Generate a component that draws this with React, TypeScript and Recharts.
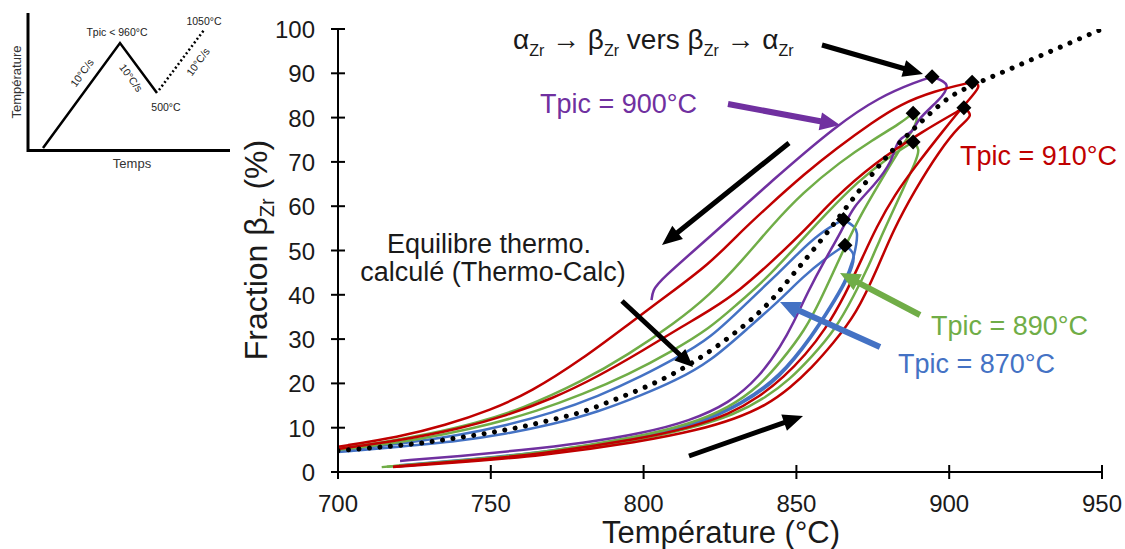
import React from 'react';
import { LineChart, Line, XAxis, YAxis } from 'recharts';

const FONT = '"Liberation Sans", Arial, Helvetica, sans-serif';

const PURPLE = '#7030A0';
const RED = '#C00000';
const GREEN = '#70AD47';
const BLUE = '#4472C4';

const xTicks = [700, 750, 800, 850, 900, 950];
const yTicks = [0, 10, 20, 30, 40, 50, 60, 70, 80, 90, 100];

// equilibrium (Thermo-Calc)
const eqTemp = [700, 710, 720, 730, 740, 750, 760, 770, 780, 790, 800, 810, 820, 830, 840, 850, 860, 870, 880, 890, 900, 910, 920, 930, 940, 950];
const eqFrac = [4.8, 5.4, 6, 6.8, 7.8, 8.9, 10.2, 11.8, 13.6, 16.2, 19, 22.3, 26.5, 31.5, 37.5, 45.5, 54, 63, 71.5, 78.5, 84.5, 88, 91, 94, 97, 100];

// [T, fraction] — heating up to Tpic, then cooling
const heat900 = [
  [720.3, 2.5], [740, 3.6], [760, 4.9], [780, 6.5], [800, 8.8], [815, 11.5], [828, 15.5], [838, 21.5], [845, 28.5],
  [849, 33.6], [854, 41], [859, 47.5], [865, 54.6], [868.6, 60], [875.2, 64.4], [881.7, 70.4], [882.8, 75.3],
  [888.3, 76.5], [889.3, 79.5], [897, 84], [900.8, 87.7], [894.4, 89.2],
];
const cool900 = [[894.4, 89.2], [889.3, 88.1], [877.3, 84.7], [863.2, 78.3], [842.4, 66], [821.7, 53.1], [805.4, 43.3], [803, 41], [802.6, 38.8]];

const heat910a = [
  [718, 1.2], [740, 2.4], [766, 4.0], [799, 7.5], [815, 10], [828, 13], [838, 17], [846, 21.5], [853, 26.5],
  [859.3, 32], [866, 40], [872, 49], [876, 55], [882, 62.5], [890, 70], [898, 77], [905, 83], [911, 87.4], [907.5, 88],
];
const cool910a = [
  [907.5, 88], [895, 86], [884, 83], [875, 79], [863, 73], [853, 67.5], [840, 59.5], [830, 53], [821.7, 47.1], [808, 40],
  [795.5, 33.6], [780, 25.5], [763, 18], [750, 14], [735, 10.5], [720, 7.9], [700, 5.7],
];
const heat910b = [
  [718, 1.1], [740, 2.2], [766, 3.6], [799, 6.8], [818, 9.5], [830, 12], [840, 15], [848, 19], [855, 23.5], [862, 29],
  [869.7, 35.8], [876.3, 45.6], [881.7, 54.6], [888.8, 63.7], [897, 72.7], [903.5, 78.3], [908, 80.5], [904.8, 82.2],
];
const cool910b = [
  [904.8, 82.2], [891.5, 77], [875, 69.5], [862, 61.5], [853.4, 55], [842, 47.5], [831.5, 41], [821.7, 36.5], [813, 33],
  [800, 27.5], [785, 21.5], [770, 16.5], [755, 12.7], [740, 9.8], [720, 7.1], [700, 5.2],
];
const heat890a = [
  [714.3, 1.1], [740, 2.6], [766, 4.2], [799, 8], [815, 10.8], [828, 14.5], [838, 19.5], [845, 25], [852.8, 32],
  [858, 39], [862, 45], [866, 51], [871, 58], [877, 65], [883, 72], [888, 77], [890, 80], [888.2, 81],
];
const cool890a = [
  [888.2, 81], [884, 78.7], [875, 75], [864.3, 70], [852, 63], [842.4, 56], [832, 47.5], [821.7, 40], [810, 33.5],
  [795, 26.5], [780, 20.5], [760, 14.2], [745, 11], [730, 8.6], [715, 6.7], [700, 5.4],
];
const heat890b = [
  [716, 1.2], [740, 2.3], [766, 3.9], [799, 7.2], [815, 9.8], [830, 13], [840, 16.8], [848, 21], [855, 26], [862.6, 32],
  [869, 40], [874, 47], [877, 52], [881, 58], [885, 64], [889, 70], [890.5, 73], [888.2, 74.5],
];
const cool890b = [
  [888.2, 74.5], [880, 71], [870, 65.5], [860, 58.5], [850, 51], [840, 43.5], [830, 37.5], [821.7, 32.5], [810, 27.5],
  [795, 22], [780, 17.5], [765, 13.7], [750, 10.8], [735, 8.5], [720, 6.6], [700, 5.0],
];
const heat870a = [
  [720, 1.5], [745, 3], [770, 4.6], [800, 8], [818, 11], [832, 15.5], [844.6, 21.5], [855.5, 31.3], [861, 37.3],
  [866, 43], [868.6, 47.9], [869.7, 51.6], [870, 54], [869.2, 55.4], [865.4, 57],
];
const cool870a = [
  [865.4, 57], [857.7, 54], [850, 49], [844.6, 45.2], [835, 39], [821.7, 30], [810, 25.5], [800, 21.8], [785, 17],
  [770, 13.3], [755, 10.5], [740, 8.3], [720, 6.3], [700, 4.9],
];
const heat870b = [
  [720, 1.3], [745, 2.8], [770, 4.4], [800, 7.8], [818, 10.8], [832, 15.2], [844.6, 21], [855.5, 30.8], [861, 36.8],
  [866, 42.5], [868.5, 46.5], [869.2, 49.5], [865.9, 51.2],
];
const cool870b = [
  [865.9, 51.2], [860, 48.5], [852, 44], [844.6, 38.8], [835, 33], [821.7, 24.8], [810, 20.5], [800, 17.5], [785, 13.5],
  [770, 10.7], [755, 8.6], [740, 7], [720, 5.7], [700, 4.5],
];
// Tpic reached (diamonds)
const peaks = [[894.4, 89.2], [907.5, 88], [888.2, 81], [904.8, 82.2], [888.2, 74.5], [865.4, 57], [865.9, 51.2]];

const toPts = (arr: number[][]) => arr.map(([t, f]) => ({ t, f }));
const eqData = eqTemp.map((t, i) => ({ t, f: eqFrac[i] }));

const series = [
  { name: 'h870a', data: toPts(heat870a), color: BLUE },
  { name: 'c870a', data: toPts(cool870a), color: BLUE },
  { name: 'h870b', data: toPts(heat870b), color: BLUE },
  { name: 'c870b', data: toPts(cool870b), color: BLUE },
  { name: 'h890a', data: toPts(heat890a), color: GREEN },
  { name: 'c890a', data: toPts(cool890a), color: GREEN },
  { name: 'h890b', data: toPts(heat890b), color: GREEN },
  { name: 'c890b', data: toPts(cool890b), color: GREEN },
  { name: 'h900', data: toPts(heat900), color: PURPLE },
  { name: 'c900', data: toPts(cool900), color: PURPLE },
  { name: 'h910a', data: toPts(heat910a), color: RED },
  { name: 'c910a', data: toPts(cool910a), color: RED },
  { name: 'h910b', data: toPts(heat910b), color: RED },
  { name: 'c910b', data: toPts(cool910b), color: RED },
];

const XTick = (props: any) => {
  const { x, y, payload } = props;
  return (
    <g>
      <line x1={x} x2={x} y1={y - 7} y2={y + 7} stroke="#000" strokeWidth={2} />
      <text x={x} y={y + 40} textAnchor="middle" fontSize={24} fontFamily={FONT} fill="#1a1a1a">{payload.value}</text>
    </g>
  );
};

const YTick = (props: any) => {
  const { x, y, payload } = props;
  return (
    <g>
      <line x1={x - 7} x2={x + 7} y1={y} y2={y} stroke="#000" strokeWidth={2} />
      <text x={x - 23} y={y + 9} textAnchor="end" fontSize={24} fontFamily={FONT} fill="#1a1a1a">{payload.value}</text>
    </g>
  );
};

const Diamond = (props: any) => {
  const { cx, cy, index } = props;
  if (cx == null || cy == null) return null;
  const r = 7.5;
  return <polygon key={`d-${index}`} points={`${cx},${cy - r} ${cx + r},${cy} ${cx},${cy + r} ${cx - r},${cy}`} fill="#000" />;
};

// simple thick arrow for annotations
const Arrow = ({ x1, y1, x2, y2, color, w = 5, hl = 18, hw = 16 }: any) => {
  const dx = x2 - x1;
  const dy = y2 - y1;
  const len = Math.sqrt(dx * dx + dy * dy);
  const ux = dx / len;
  const uy = dy / len;
  const px = -uy;
  const py = ux;
  const bx = x2 - ux * hl;
  const by = y2 - uy * hl;
  const pts = [
    [x1 + (px * w) / 2, y1 + (py * w) / 2],
    [bx + (px * w) / 2, by + (py * w) / 2],
    [bx + (px * hw) / 2, by + (py * hw) / 2],
    [x2, y2],
    [bx - (px * hw) / 2, by - (py * hw) / 2],
    [bx - (px * w) / 2, by - (py * w) / 2],
    [x1 - (px * w) / 2, y1 - (py * w) / 2],
  ];
  return <polygon points={pts.map((p) => p.join(',')).join(' ')} fill={color} />;
};

const Overlay = () => (
  <svg width={1125} height={549} style={{ position: 'absolute', left: 0, top: 0, pointerEvents: 'none' }}>
    {/* inset: thermal cycle */}
    <g fontFamily={FONT}>
      <line x1={28} y1={13} x2={28} y2={152} stroke="#000" strokeWidth={3} />
      <line x1={27} y1={150.5} x2={230} y2={150.5} stroke="#000" strokeWidth={3} />
      <polyline points="43,148 120,43 157,93" fill="none" stroke="#000" strokeWidth={2.5} />
      <line x1={159} y1={90} x2={204} y2={30} stroke="#000" strokeWidth={2.5} strokeDasharray="2 2.5" />
      <text x={117} y={36} textAnchor="middle" fontSize={10.5} fill="#222">Tpic &lt; 960°C</text>
      <text x={204} y={25} textAnchor="middle" fontSize={10.5} fill="#222">1050°C</text>
      <text x={166} y={111} textAnchor="middle" fontSize={10.5} fill="#222">500°C</text>
      <text x={85} y={75} textAnchor="middle" fontSize={10.5} fill="#222" transform="rotate(-54 85 75)">10°C/s</text>
      <text x={128} y={80} textAnchor="middle" fontSize={10.5} fill="#222" transform="rotate(54 128 80)">10°C/s</text>
      <text x={201} y={64} textAnchor="middle" fontSize={10.5} fill="#222" transform="rotate(-54 201 64)">10°C/s</text>
      <text x={21} y={82} textAnchor="middle" fontSize={13} fill="#333" transform="rotate(-90 21 82)">Température</text>
      <text x={132} y={168} textAnchor="middle" fontSize={13} fill="#333">Temps</text>
    </g>

    {/* axis titles */}
    <text x={721} y={543} textAnchor="middle" fontSize={31} fontFamily={FONT} fill="#1a1a1a">Température (°C)</text>
    <text x={267} y={250} textAnchor="middle" fontSize={32} fontFamily={FONT} fill="#1a1a1a" transform="rotate(-90 267 250)">
      Fraction β<tspan fontSize={20} dy={7}>Zr</tspan><tspan dy={-7}> (%)</tspan>
    </text>

    {/* annotations */}
    <text x={513} y={49} fontSize={28} fontFamily={FONT} fill="#1a1a1a">
      α<tspan fontSize={16} dy={7}>Zr</tspan><tspan dy={-7}> → β</tspan><tspan fontSize={16} dy={7}>Zr</tspan>
      <tspan dy={-7}> vers β</tspan><tspan fontSize={16} dy={7}>Zr</tspan><tspan dy={-7}> → α</tspan>
      <tspan fontSize={16} dy={7}>Zr</tspan>
    </text>
    <Arrow x1={822} y1={45} x2={923} y2={74} color="#000" w={5} hl={20} hw={17} />

    <text x={540} y={113} fontSize={27} fontFamily={FONT} fill={PURPLE}>Tpic = 900°C</text>
    <Arrow x1={728} y1={104} x2={840} y2={125} color={PURPLE} w={6} hl={20} hw={18} />

    <Arrow x1={789} y1={143} x2={662} y2={245} color="#000" w={5} hl={20} hw={17} />

    <text x={960} y={165} fontSize={27} fontFamily={FONT} fill={RED}>Tpic = 910°C</text>

    <text x={489} y={253} textAnchor="middle" fontSize={27} fontFamily={FONT} fill="#1a1a1a">Equilibre thermo.</text>
    <text x={493} y={281} textAnchor="middle" fontSize={27} fontFamily={FONT} fill="#1a1a1a">calculé (Thermo-Calc)</text>
    <Arrow x1={622} y1={301} x2={693} y2={367} color="#000" w={5} hl={18} hw={16} />

    <text x={931} y={335} fontSize={27} fontFamily={FONT} fill={GREEN}>Tpic = 890°C</text>
    <Arrow x1={920} y1={315} x2={840} y2={273} color={GREEN} w={6} hl={20} hw={18} />

    <text x={898} y={373} fontSize={27} fontFamily={FONT} fill={BLUE}>Tpic = 870°C</text>
    <Arrow x1={880} y1={347} x2={780} y2={302} color={BLUE} w={6} hl={20} hw={18} />

    <Arrow x1={689} y1={456} x2={803} y2={416} color="#000" w={5} hl={20} hw={17} />
  </svg>
);

export default function App() {
  return (
    <div style={{ position: 'absolute', left: 0, top: 0, width: 1125, height: 549, background: '#fff' }}>
      <LineChart width={1125} height={549} margin={{ top: 29, right: 23, left: 278, bottom: 37 }}>
        <XAxis
          type="number"
          dataKey="t"
          domain={[700, 950]}
          ticks={xTicks}
          allowDataOverflow
          height={40}
          tickLine={false}
          tickSize={0}
          tickMargin={0}
          tick={<XTick />}
          axisLine={{ stroke: '#000', strokeWidth: 2 }}
        />
        <YAxis
          type="number"
          domain={[0, 100]}
          ticks={yTicks}
          allowDataOverflow
          width={60}
          tickLine={false}
          tickSize={0}
          tickMargin={0}
          tick={<YTick />}
          axisLine={{ stroke: '#000', strokeWidth: 2 }}
        />
        {series.map((s) => (
          <Line
            key={s.name}
            data={s.data}
            dataKey="f"
            type="basis"
            stroke={s.color}
            strokeWidth={2.5}
            dot={false}
            activeDot={false}
            isAnimationActive={false}
          />
        ))}
        <Line
          data={eqData}
          dataKey="f"
          type="monotone"
          stroke="#000"
          strokeWidth={5}
          strokeDasharray="0.01 10.5"
          strokeLinecap="round"
          dot={false}
          activeDot={false}
          isAnimationActive={false}
        />
        <Line
          data={toPts(peaks)}
          dataKey="f"
          stroke="none"
          dot={<Diamond />}
          activeDot={false}
          isAnimationActive={false}
        />
      </LineChart>
      <Overlay />
    </div>
  );
}
